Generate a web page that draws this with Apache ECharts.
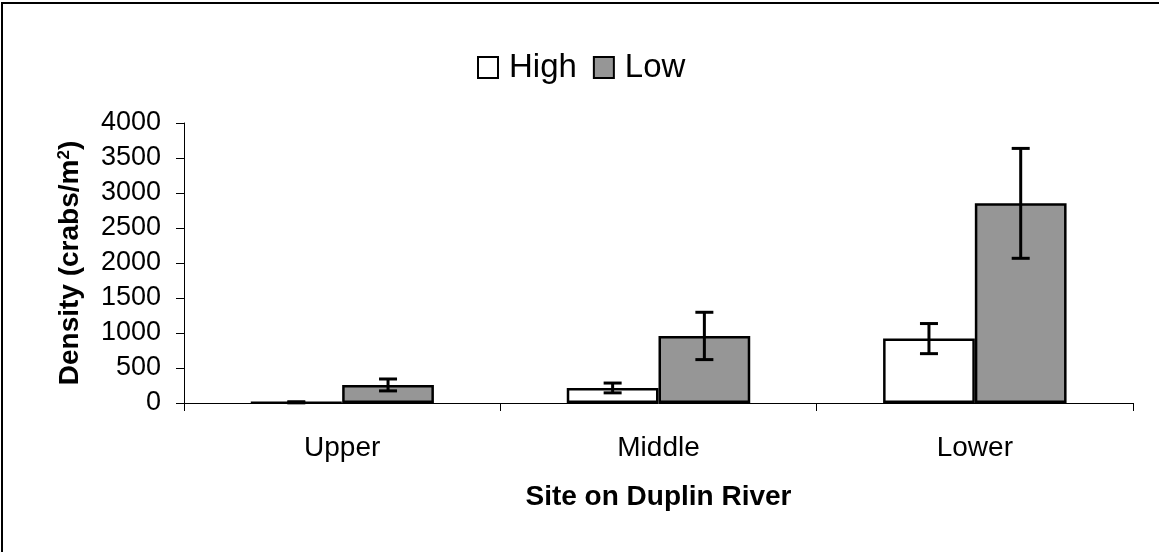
<!DOCTYPE html>
<html>
<head>
<meta charset="utf-8">
<script src="https://cdn.jsdelivr.net/npm/echarts@6/dist/echarts.min.js"></script>
<style>
html,body{margin:0;padding:0;background:#fff;}
#chart{width:1159px;height:552px;}
</style>
</head>
<body>
<div id="chart"></div>
<script>
var categories = ['Upper', 'Middle', 'Lower'];
var seriesNames = ['High', 'Low'];
var highMeans = [10, 215, 920];
var lowMeans = [258, 958, 2852];
var highErr = [8, 70, 215];
var lowErr = [85, 338, 785];
var yTicks = [0, 500, 1000, 1500, 2000, 2500, 3000, 3500, 4000];

var FONT = "'Liberation Sans', Arial, sans-serif";
var CATGAP = 0.42;

function errData(means, errs) {
  return means.map(function (m, i) { return [i, m - errs[i], m + errs[i]]; });
}

function makeErrRender(side) {
  return function (params, api) {
    var idx = api.value(0);
    var lo = api.coord([idx, api.value(1)]);
    var hi = api.coord([idx, api.value(2)]);
    var band = api.size([1, 0])[0];
    var barW = band * (1 - CATGAP) / 2;
    var x = lo[0] + side * barW / 2;
    var cap = 9;
    var st = { stroke: '#000', lineWidth: 3 };
    return {
      type: 'group',
      children: [
        { type: 'line', shape: { x1: x, y1: lo[1], x2: x, y2: hi[1] }, style: st },
        { type: 'line', shape: { x1: x - cap, y1: hi[1], x2: x + cap, y2: hi[1] }, style: st },
        { type: 'line', shape: { x1: x - cap, y1: lo[1], x2: x + cap, y2: lo[1] }, style: st }
      ]
    };
  };
}

var chart = echarts.init(document.getElementById('chart'), null, { renderer: 'canvas' });
chart.setOption({
  animation: false,
  backgroundColor: '#fff',
  textStyle: { fontFamily: FONT, color: '#000' },
  graphic: [{
    type: 'rect',
    shape: { x: 2, y: 3, width: 1400, height: 800 },
    style: { fill: 'none', stroke: '#000', lineWidth: 2 },
    z: 100
  }],
  legend: {
    data: seriesNames,
    left: 472,
    top: 46,
    itemWidth: 20,
    itemHeight: 21,
    itemGap: 16,
    icon: 'rect',
    textStyle: { fontFamily: FONT, fontSize: 33, color: '#000', padding: [0, 0, 0, 6] }
  },
  grid: { left: 184, right: 26, top: 123, bottom: 149 },
  xAxis: {
    type: 'category',
    data: categories,
    axisLine: { lineStyle: { color: '#000', width: 1 } },
    axisTick: { show: true, length: 8, lineStyle: { color: '#000' } },
    axisLabel: { fontFamily: FONT, fontSize: 28, color: '#000', margin: 31 },
    name: 'Site on Duplin River',
    nameLocation: 'middle',
    nameGap: 80,
    nameTextStyle: { fontFamily: FONT, fontSize: 28, fontWeight: 'bold', color: '#000' }
  },
  yAxis: {
    type: 'value',
    min: 0,
    max: 4000,
    interval: 500,
    splitLine: { show: false },
    axisLine: { show: true, lineStyle: { color: '#000', width: 1 } },
    axisTick: { show: true, length: 8, lineStyle: { color: '#000' } },
    axisLabel: {
      fontFamily: FONT, fontSize: 27, color: '#000', margin: 23,
      formatter: function (v) { return yTicks.indexOf(v) >= 0 ? String(v) : ''; }
    },
    name: 'Density (crabs/m{sup|2})',
    nameLocation: 'middle',
    nameGap: 99,
    nameRotate: 90,
    nameTextStyle: {
      fontFamily: FONT, fontSize: 28, fontWeight: 'bold', color: '#000',
      rich: {
        sup: { fontFamily: FONT, fontSize: 17, fontWeight: 'bold', color: '#000', verticalAlign: 'top', padding: [0, 0, 12, 0] }
      }
    }
  },
  series: [
    {
      name: 'High', type: 'bar', data: highMeans,
      barGap: '0%', barCategoryGap: (CATGAP * 100) + '%',
      itemStyle: { color: '#ffffff', borderColor: '#000', borderWidth: 2.5 }
    },
    {
      name: 'Low', type: 'bar', data: lowMeans,
      barGap: '0%', barCategoryGap: (CATGAP * 100) + '%',
      itemStyle: { color: '#969696', borderColor: '#000', borderWidth: 2.5 }
    },
    {
      name: 'HighErr', type: 'custom', data: errData(highMeans, highErr),
      renderItem: makeErrRender(-1), z: 10, silent: true
    },
    {
      name: 'LowErr', type: 'custom', data: errData(lowMeans, lowErr),
      renderItem: makeErrRender(1), z: 10, silent: true
    }
  ]
});
</script>
</body>
</html>
